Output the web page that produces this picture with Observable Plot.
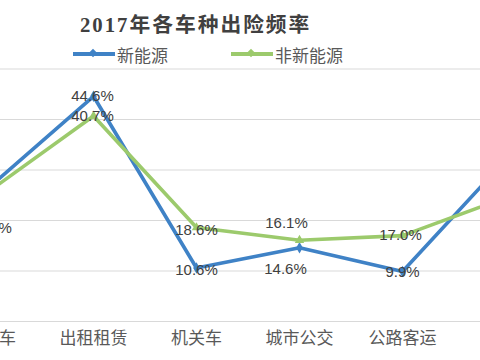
<!DOCTYPE html>
<html><head><meta charset="utf-8">
<script src="https://cdn.jsdelivr.net/npm/d3@7"></script>
<script src="https://cdn.jsdelivr.net/npm/@observablehq/plot@0.6"></script>
<style>
html,body{margin:0;padding:0;background:#fff;width:480px;height:360px;overflow:hidden}
#head{position:relative;height:60px;width:480px}
.title{position:absolute;left:80px;top:9px;font-weight:bold;font-size:22px;font-family:"Liberation Serif","Noto Sans CJK SC",serif;letter-spacing:2px;color:#404040;line-height:32px;white-space:nowrap}
.leg{position:absolute;top:43px;height:22px;display:flex;align-items:center;font-family:"Noto Sans CJK SC",sans-serif;font-size:17px;color:#595959;white-space:nowrap}
.sw{position:relative;width:42px;height:4px;margin-right:2px}
.sw i{position:absolute;left:17px;top:-2px;width:6px;height:6px;transform:rotate(45deg)}
#chart{width:480px;height:300px;overflow:hidden}
</style>
</head><body>
<div id="head"></div>
<div id="chart"></div>
<script>
const title = "2017年各车种出险频率";
const categories = ["私家车", "出租租赁", "机关车", "城市公交", "公路客运", "货车"];
const seriesNames = ["新能源", "非新能源"];
const newEnergy = [26.8, 44.6, 10.6, 14.6, 9.9, 32.0];
const nonNewEnergy = [26.0, 40.7, 18.6, 16.1, 17.0, 24.5];
const colors = ["#3f82c6", "#9cca6c"];

// label offsets (presentation only)
const labelOffsets = {
  "新能源": [[-14, -18], [-1, 0], [0, 2], [-14, 21], [0, 1], [0, -18]],
  "非新能源": [[0, 38], [-1, 0], [0, 3], [-13, -17], [-2, 0], [0, 18]]
};

const rows = categories.flatMap((c, i) => [
  {cat: c, series: seriesNames[0], value: newEnergy[i], i},
  {cat: c, series: seriesNames[1], value: nonNewEnergy[i], i}
]);

// header: title + legend
const head = document.getElementById("head");
const t = document.createElement("div");
t.className = "title"; t.textContent = title; head.appendChild(t);
// fit title to its width in the reference (x 80..310)
{
  const w = t.getBoundingClientRect().width;
  if (w > 0) t.style.fontSize = (22 * 230 / w).toFixed(2) + "px";
}
const legX = [73, 231];
seriesNames.forEach((s, k) => {
  const d = document.createElement("div");
  d.className = "leg"; d.style.left = legX[k] + "px";
  const sw = document.createElement("span");
  sw.className = "sw"; sw.style.background = colors[k];
  const m = document.createElement("i"); m.style.background = colors[k];
  sw.appendChild(m);
  d.appendChild(sw);
  const tx = document.createElement("span"); tx.textContent = s; d.appendChild(tx);
  head.appendChild(d);
});

const labelMarks = rows.map(r => {
  const [dx, dy] = labelOffsets[r.series][r.i];
  return Plot.text([r], {
    x: "cat", y: "value", text: d => d.value.toFixed(1) + "%",
    dx, dy, fontSize: 15, fill: "#404040",
    fontFamily: "'Liberation Sans', Arial, sans-serif"
  });
});

const chart = Plot.plot({
  width: 480, height: 300,
  marginTop: 8.5, marginBottom: 39, marginLeft: 0, marginRight: 0,
  style: {fontFamily: "'Noto Sans CJK SC', sans-serif", background: "white", overflow: "hidden"},
  x: {type: "point", domain: categories, range: [-10, 505], padding: 0},
  y: {domain: [0, 50], axis: null},
  color: {domain: seriesNames, range: colors},
  symbol: {domain: seriesNames, range: ["diamond", "triangle"]},
  marks: [
    Plot.gridY({ticks: 5, stroke: "#d9d9d9", strokeOpacity: 1, strokeWidth: 1.2}),
    Plot.axisX({tickSize: 0, tickPadding: 10, fontSize: 17, fill: "#595959", label: null}),
    Plot.lineY(rows, {x: "cat", y: "value", z: "series", stroke: "series", strokeWidth: 3.6}),
    Plot.dot(rows, {x: "cat", y: "value", symbol: "series", fill: "series", r: 3.5}),
    ...labelMarks
  ]
});
document.getElementById("chart").appendChild(chart);
</script>
</body></html>
